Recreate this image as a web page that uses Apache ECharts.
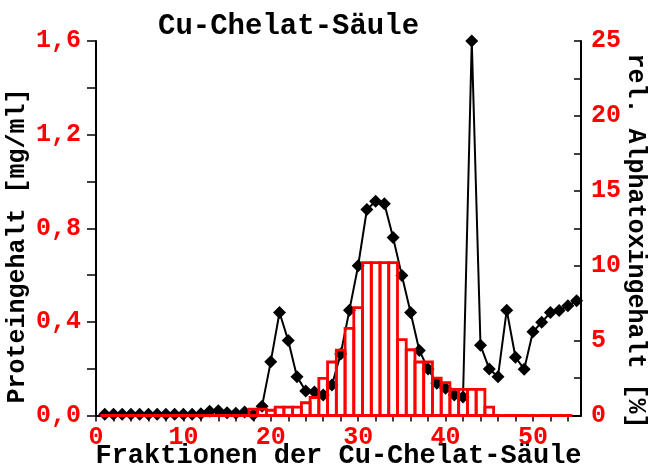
<!DOCTYPE html>
<html>
<head>
<meta charset="utf-8">
<script src="https://cdn.jsdelivr.net/npm/echarts@6/dist/echarts.min.js"></script>
<style>
  html, body { margin: 0; padding: 0; background: #fff; }
  #chart { width: 648px; height: 465px; }
</style>
</head>
<body>
<div id="chart"></div>
<script>
// Fractions collected from the Cu-chelate column
var fractions = [1, 2, 3, 4, 5, 6, 7, 8, 9, 10, 11, 12, 13, 14, 15, 16, 17, 18, 19, 20,
  21, 22, 23, 24, 25, 26, 27, 28, 29, 30, 31, 32, 33, 34, 35, 36, 37, 38, 39, 40,
  41, 42, 43, 44, 45, 46, 47, 48, 49, 50, 51, 52, 53, 54, 55];

// Protein content per fraction [mg/ml]
var protein = [0.005, 0.005, 0.005, 0.005, 0.005, 0.005, 0.005, 0.005, 0.005, 0.005,
  0.005, 0.008, 0.018, 0.02, 0.012, 0.01, 0.015, 0.003, 0.04, 0.23,
  0.44, 0.32, 0.166, 0.105, 0.10, 0.088, 0.13, 0.263, 0.45, 0.64,
  0.88, 0.915, 0.905, 0.76, 0.598, 0.44, 0.278, 0.199, 0.138, 0.116,
  0.088, 0.079, 1.6, 0.30, 0.199, 0.166, 0.45, 0.249, 0.198, 0.358,
  0.398, 0.44, 0.449, 0.469, 0.49];

// Fractions tested for alpha toxin and their relative content [%]
var toxinFractions = [1, 2, 3, 4, 5, 6, 7, 8, 9, 10, 11, 12, 13, 14, 15, 16, 17, 18, 19, 20,
  21, 22, 23, 24, 25, 26, 27, 28, 29, 30, 31, 32, 33, 34, 35, 36, 37, 38, 39, 40,
  41, 42, 43, 44, 45, 46, 47, 48, 49, 50, 51, 52, 53, 54];
var toxin = [0, 0, 0, 0, 0, 0, 0, 0, 0, 0, 0, 0, 0, 0, 0, 0, 0, 0.42, 0.42, 0.35,
  0.56, 0.56, 0.56, 0.85, 1.2, 2.48, 3.57, 4.37, 5.82, 7.2,
  10.2, 10.2, 10.2, 10.2, 5.06, 4.39, 3.57, 3.57, 2.5, 2.19,
  1.75, 1.75, 1.75, 1.75, 0.56, 0, 0, 0, 0, 0, 0, 0, 0, 0];

// Tick label texts
var xTickLabels = ['0', '10', '20', '30', '40', '50'];
var proteinTickLabels = ['0,0', '0,4', '0,8', '1,2', '1,6'];
var toxinTickLabels = ['0', '5', '10', '15', '20', '25'];

var FONT = '"Liberation Mono", "Courier New", monospace';
var RED = '#ff0000';

function pickLabel(list, value, step) {
  var k = value / step;
  if (Math.abs(k - Math.round(k)) > 1e-6) return '';
  return list[Math.round(k)] || '';
}

var proteinData = fractions.map(function (f, i) { return [f, protein[i]]; });
var toxinData = toxinFractions.map(function (f, i) { return [f, toxin[i]]; });

var chart = echarts.init(document.getElementById('chart'), null, { renderer: 'canvas' });

var tickFont = { color: RED, fontFamily: FONT, fontWeight: 'bold', fontSize: 25 };

chart.setOption({
  animation: false,
  backgroundColor: '#fff',
  title: {
    text: 'Cu-Chelat-Säule',
    left: 153, top: 7,
    textStyle: { fontFamily: FONT, fontWeight: 'bold', fontSize: 29, color: '#000' }
  },
  grid: { left: 96, right: 67, top: 41, bottom: 49.5, containLabel: false, outerBoundsMode: 'none' },
  xAxis: {
    type: 'value', min: 0, max: 55.5, interval: 2,
    name: 'Fraktionen der Cu-Chelat-Säule',
    nameLocation: 'middle', nameGap: 27, nameMoveOverlap: false,
    nameTextStyle: { fontFamily: FONT, fontWeight: 'bold', fontSize: 27, color: '#000',
      verticalAlign: 'top' },
    axisLine: { lineStyle: { color: '#000', width: 2 } },
    axisTick: { length: 6, lineStyle: { color: '#000', width: 1.5 } },
    axisLabel: Object.assign({ margin: 10, showMaxLabel: false,
      formatter: function (v) { return pickLabel(xTickLabels, v, 10); } }, tickFont),
    splitLine: { show: false }
  },
  yAxis: [{
    type: 'value', min: 0, max: 1.6, interval: 0.2, position: 'left',
    axisLine: { show: true, lineStyle: { color: '#000', width: 2 } },
    axisTick: { show: true, length: 9, lineStyle: { color: '#000', width: 1.5 } },
    axisLabel: Object.assign({ margin: 15,
      formatter: function (v) { return pickLabel(proteinTickLabels, v, 0.4); } }, tickFont),
    splitLine: { show: false }
  }, {
    type: 'value', min: 0, max: 25, interval: 2.5, position: 'right',
    axisLine: { show: true, lineStyle: { color: '#000', width: 2 } },
    axisTick: { show: true, inside: true, length: 7, lineStyle: { color: '#000', width: 1.5 } },
    axisLabel: Object.assign({ margin: 10,
      formatter: function (v) { return pickLabel(toxinTickLabels, v, 5); } }, tickFont),
    splitLine: { show: false }
  }],
  graphic: [{
    type: 'text', x: 18, y: 246, rotation: Math.PI / 2,
    style: { text: 'Proteingehalt [mg/ml]', fill: '#000', font: 'bold 25px ' + FONT,
      align: 'center', verticalAlign: 'middle' }
  }, {
    type: 'text', x: 635, y: 241, rotation: -Math.PI / 2,
    style: { text: 'rel. Alphatoxingehalt [%]', fill: '#000', font: 'bold 25px ' + FONT,
      align: 'center', verticalAlign: 'middle' }
  }],
  series: [{
    type: 'line', yAxisIndex: 0, data: proteinData, z: 2,
    symbol: 'diamond', symbolSize: 13,
    lineStyle: { color: '#000', width: 2 },
    itemStyle: { color: '#000' }
  }, {
    type: 'custom', yAxisIndex: 1, data: toxinData, z: 3, clip: false,
    renderItem: function (params, api) {
      var f = api.value(0), v = api.value(1);
      var p0 = api.coord([f - 0.5, v]);
      var p1 = api.coord([f + 0.5, 0]);
      return {
        type: 'rect',
        shape: { x: p0[0], y: p0[1], width: p1[0] - p0[0], height: p1[1] - p0[1] },
        style: { fill: 'none', stroke: RED, lineWidth: 2.8 }
      };
    }
  }]
});
</script>
</body>
</html>
